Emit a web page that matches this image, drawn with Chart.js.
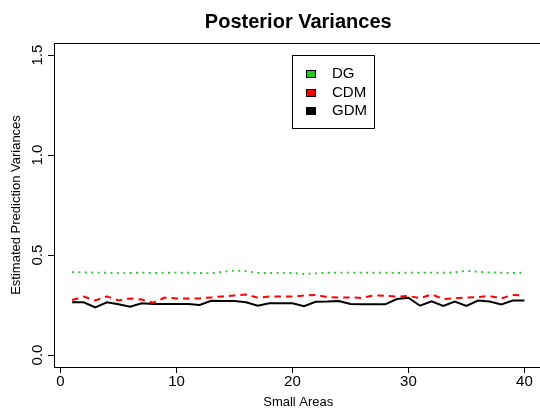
<!DOCTYPE html>
<html><head><meta charset="utf-8">
<script src="https://cdn.jsdelivr.net/npm/chart.js@4/dist/chart.umd.min.js"></script>
<style>
html,body{margin:0;padding:0;overflow:hidden;background:#fff;width:540px;height:410px}
#wrap{width:548px;height:410px}
</style>
</head><body><div id="wrap"><canvas id="c" width="548" height="410"></canvas></div>
<script>
const areas = [1,2,3,4,5,6,7,8,9,10,11,12,13,14,15,16,17,18,19,20,21,22,23,24,25,26,27,28,29,30,31,32,33,34,35,36,37,38,39,40];
const dgValues = [0.414,0.413,0.412,0.411,0.409,0.410,0.412,0.410,0.411,0.412,0.411,0.410,0.409,0.416,0.422,0.419,0.411,0.410,0.411,0.410,0.405,0.408,0.411,0.412,0.412,0.412,0.411,0.412,0.410,0.412,0.412,0.412,0.411,0.413,0.421,0.416,0.413,0.411,0.410,0.412];
const cdmValues = [0.275,0.292,0.273,0.293,0.273,0.283,0.277,0.262,0.287,0.283,0.283,0.283,0.288,0.293,0.298,0.302,0.287,0.292,0.292,0.292,0.297,0.300,0.290,0.288,0.288,0.285,0.298,0.296,0.292,0.295,0.284,0.303,0.280,0.284,0.287,0.290,0.295,0.283,0.300,0.297];
const gdmValues = [0.2635,0.2635,0.2385,0.2635,0.2535,0.2415,0.2585,0.255,0.255,0.255,0.255,0.250,0.2715,0.270,0.270,0.2635,0.2465,0.2585,0.2585,0.2585,0.244,0.2665,0.267,0.270,0.255,0.254,0.254,0.2535,0.280,0.2865,0.2465,0.268,0.245,0.267,0.245,0.272,0.267,0.253,0.272,0.272];
const xTickValues = [0,10,20,30,40];
const yTickValues = [0,0.5,1.0,1.5];
const seriesNames = ['DG','CDM','GDM'];

const FONT = "'Liberation Sans', Arial, Helvetica, sans-serif";

function pts(vals){ return areas.map((a,i)=>({x:a, y:vals[i]})); }

const boxPlugin = {
  id:'boxPlugin',
  afterDraw(chart){
    const {ctx, chartArea:a} = chart;
    ctx.save();
    ctx.strokeStyle = '#000';
    ctx.lineWidth = 1;
    ctx.strokeRect(Math.round(a.left)+0.5, Math.round(a.top)+0.5, Math.round(a.right-a.left), Math.round(a.bottom-a.top));
    ctx.restore();
  }
};

const legendPlugin = {
  id:'legendPlugin',
  afterDraw(chart){
    const ctx = chart.ctx;
    ctx.save();
    ctx.strokeStyle = '#000';
    ctx.lineWidth = 1;
    ctx.strokeRect(292.5, 55.5, 82, 73);
    ctx.font = '15px ' + FONT;
    ctx.textBaseline = 'middle';
    ctx.textAlign = 'left';
    chart.data.datasets.forEach((ds,i)=>{
      const cy = Math.round(74 + i*18.5);
      ctx.fillStyle = ds.swatch;
      ctx.fillRect(306.5, cy-3.5, 9, 7);
      ctx.strokeStyle = '#000';
      ctx.strokeRect(306.5, cy-3.5, 9, 7);
      ctx.fillStyle = '#000';
      ctx.fillText(ds.label, 332, cy);
    });
    ctx.restore();
  }
};

const axisCommon = {
  type:'linear',
  grid:{display:true, drawOnChartArea:false, drawTicks:true, tickLength:6, color:'#000', lineWidth:1},
  border:{display:true, color:'#000', width:1},
};

new Chart(document.getElementById('c'), {
  type:'line',
  data:{
    datasets:[
      {label:seriesNames[0], data:pts(dgValues), borderColor:'#1ecb1e', swatch:'#1ecb1e', borderWidth:1.9, borderDash:[1.9,4.5], borderCapStyle:'butt', pointRadius:0, tension:0, fill:false},
      {label:seriesNames[1], data:pts(cdmValues), borderColor:'#ff0000', swatch:'#ff0000', borderWidth:2, borderDash:[6.5,5], pointRadius:0, tension:0, fill:false},
      {label:seriesNames[2], data:pts(gdmValues), borderColor:'#000000', swatch:'#000000', borderWidth:2, pointRadius:0, tension:0, fill:false}
    ]
  },
  options:{
    responsive:false, animation:false, devicePixelRatio:1,
    layout:{padding:{left:0, right:5.5, top:0, bottom:0}},
    plugins:{
      legend:{display:false}, tooltip:{enabled:false},
      title:{display:true, text:'Posterior Variances', color:'#000', fullSize:false,
        font:{family:FONT, size:20, weight:'bold'}, padding:{top:10, bottom:9}}
    },
    scales:{
      x:Object.assign({}, axisCommon, {
        position:'bottom', min:-0.56, max:41.56,
        afterBuildTicks(s){ s.ticks = xTickValues.map(v=>({value:v})); },
        afterFit(s){ s.height = 43; },
        ticks:{color:'#000', font:{family:FONT, size:15}, padding:0, maxRotation:0, autoSkip:false, callback:v=>String(v)},
        title:{display:true, text:'Small Areas', color:'#000', font:{family:FONT, size:13}, padding:{top:0,bottom:0}}
      }),
      y:Object.assign({}, axisCommon, {
        position:'left', min:-0.06, max:1.56,
        afterBuildTicks(s){ s.ticks = yTickValues.map(v=>({value:v})); },
        afterFit(s){ s.width = 54; },
        ticks:{color:'#000', font:{family:FONT, size:15}, padding:0, minRotation:90, maxRotation:90, crossAlign:'center', autoSkip:false, callback:v=>Number(v).toFixed(1)},
        title:{display:true, text:'Estimated Prediction Variances', color:'#000', font:{family:FONT, size:13}, padding:{top:9,bottom:0}}
      })
    }
  },
  plugins:[boxPlugin, legendPlugin]
});
</script>
</body></html>
